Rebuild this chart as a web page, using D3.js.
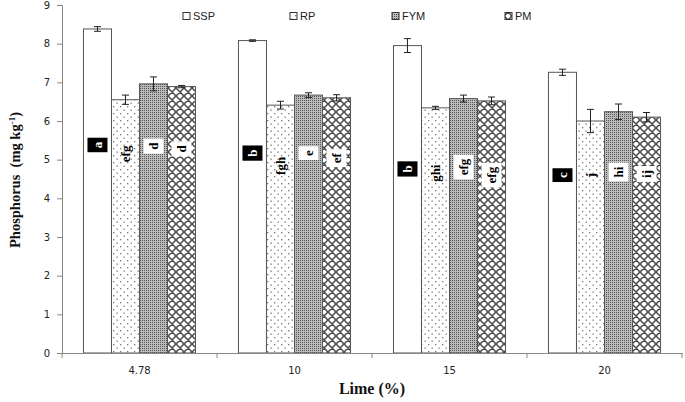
<!DOCTYPE html>
<html><head><meta charset="utf-8">
<script src="https://cdn.jsdelivr.net/npm/d3@7"></script>
<style>body{margin:0;background:#fff}svg{display:block}</style>
</head><body>
<svg id="c" width="685" height="402"></svg>
<script>
const categories = ["4.78", "10", "15", "20"];
const seriesNames = ["SSP", "RP", "FYM", "PM"];
const ssp = [8.38, 8.08, 7.95, 7.26];
const rp  = [6.55, 6.41, 6.34, 6.00];
const fym = [6.96, 6.67, 6.58, 6.24];
const pm  = [6.89, 6.60, 6.52, 6.10];
const sspErr = [0.06, 0.02, 0.18, 0.08];
const rpErr  = [0.12, 0.10, 0.04, 0.30];
const fymErr = [0.18, 0.06, 0.09, 0.20];
const pmErr  = [0.03, 0.08, 0.10, 0.12];
const sspLet = ["a", "b", "b", "c"];
const rpLet  = ["efg", "fgh", "ghi", "j"];
const fymLet = ["d", "e", "efg", "hi"];
const pmLet  = ["d", "ef", "efg", "ij"];
// label centre heights in axis units
const sspLab = [5.38, 5.17, 4.76, 4.60];
const rpLab  = [5.15, 4.84, 4.65, 4.60];
const fymLab = [5.35, 5.17, 4.81, 4.68];
const pmLab  = [5.28, 5.04, 4.60, 4.63];
const yTicks = [0,1,2,3,4,5,6,7,8,9];

const seriesVals = [ssp, rp, fym, pm];
const seriesErr = [sspErr, rpErr, fymErr, pmErr];
const seriesLet = [sspLet, rpLet, fymLet, pmLet];
const seriesLab = [sspLab, rpLab, fymLab, pmLab];
const fills = ["#fff", "url(#pRP)", "url(#pFYM)", "url(#pPM)"];

const svg = d3.select("#c");
svg.append("rect").attr("width",685).attr("height",402).attr("fill","#fff");

const defs = svg.append("defs");
// RP sparse dots
const pRP = defs.append("pattern").attr("id","pRP").attr("patternUnits","userSpaceOnUse").attr("width",7).attr("height",7);
pRP.append("rect").attr("width",7).attr("height",7).attr("fill","#fff");
pRP.append("rect").attr("x",1).attr("y",1).attr("width",1.3).attr("height",1.3).attr("fill","#777");
pRP.append("rect").attr("x",4.5).attr("y",4.5).attr("width",1.3).attr("height",1.3).attr("fill","#777");
// FYM fine texture
const pF = defs.append("pattern").attr("id","pFYM").attr("patternUnits","userSpaceOnUse").attr("width",2).attr("height",2);
pF.append("rect").attr("width",2).attr("height",2).attr("fill","#bbb");
pF.append("rect").attr("width",1).attr("height",1).attr("fill","#555");
// PM crosshatch
const pP = defs.append("pattern").attr("id","pPM").attr("patternUnits","userSpaceOnUse").attr("width",8).attr("height",8);
pP.append("rect").attr("width",8).attr("height",8).attr("fill","#fff");
pP.append("path").attr("d","M0,0L8,8M8,0L0,8M-1,7L1,9M7,-1L9,1M-1,1L1,-1M7,9L9,7")
  .attr("stroke","#4a4a4a").attr("stroke-width",1.5).attr("fill","none");

const x0 = d3.scaleBand().domain(categories).range([62, 682]).paddingInner(0.277).paddingOuter(0.1385);
const x1 = d3.scaleBand().domain(seriesNames).range([0, x0.bandwidth()]);
const y = d3.scaleLinear().domain([0, 9]).range([353, 5]);

// y axis
const yAx = svg.append("g").attr("transform","translate(62,0)")
  .call(d3.axisLeft(y).tickValues(yTicks).tickSize(5).tickPadding(7).tickFormat(d3.format("d")));
yAx.select(".domain").attr("stroke","#888");
yAx.selectAll(".tick line").attr("stroke","#888");
yAx.selectAll("text").attr("font-family","DejaVu Sans, Verdana, sans-serif").attr("font-size",10).attr("fill","#222");

// bars
seriesNames.forEach((s, si) => {
  const g = svg.append("g");
  g.selectAll("rect").data(categories).join("rect")
    .attr("x", c => x0(c) + x1(s))
    .attr("y", (c, i) => y(seriesVals[si][i]))
    .attr("width", x1.bandwidth())
    .attr("height", (c, i) => y(0) - y(seriesVals[si][i]))
    .attr("fill", fills[si]).attr("stroke","#555").attr("stroke-width",1);
});

// x axis
const xAx = svg.append("g").attr("transform","translate(0,353)")
  .call(d3.axisBottom(x0).tickSize(0).tickPadding(14).tickSizeOuter(0));
xAx.select(".domain").attr("stroke","#888");
xAx.selectAll("text").attr("font-family","DejaVu Sans, Verdana, sans-serif").attr("font-size",10).attr("fill","#222");
const bounds = categories.map(c => x0(c) - x0.step()*0.1385).concat([682]);
xAx.selectAll(".bt").data(bounds).join("line").attr("class","bt")
  .attr("x1", d => d).attr("x2", d => d).attr("y1",0).attr("y2",5).attr("stroke","#888");

// error bars
seriesNames.forEach((s, si) => {
  categories.forEach((c, i) => {
    const cx = x0(c) + x1(s) + x1.bandwidth()/2;
    const v = seriesVals[si][i], e = seriesErr[si][i];
    const g = svg.append("g").attr("stroke","#222").attr("stroke-width",1);
    g.append("line").attr("x1",cx).attr("x2",cx).attr("y1",y(v+e)).attr("y2",y(v-e));
    g.append("line").attr("x1",cx-3.5).attr("x2",cx+3.5).attr("y1",y(v+e)).attr("y2",y(v+e));
    g.append("line").attr("x1",cx-3.5).attr("x2",cx+3.5).attr("y1",y(v-e)).attr("y2",y(v-e));
  });
});

// letter labels
seriesNames.forEach((s, si) => {
  categories.forEach((c, i) => {
    const cx = x0(c) + x1(s) + x1.bandwidth()/2;
    const cy = y(seriesLab[si][i]);
    const g = svg.append("g").attr("transform", `translate(${cx},${cy}) rotate(-90)`);
    const box = g.append("rect");
    const t = g.append("text").text(seriesLet[si][i])
      .attr("text-anchor","middle").attr("dominant-baseline","central")
      .attr("font-family","Liberation Serif, Times New Roman, serif").attr("font-weight","bold")
      .attr("font-size",13).attr("fill", si === 0 ? "#fff" : "#000");
    const len = t.node().getComputedTextLength();
    box.attr("x", -len/2 - 4).attr("y", -10).attr("width", len + 8).attr("height", 20)
      .attr("fill", si === 0 ? "#000" : "#fff").attr("opacity", si === 1 ? 0 : 1);
  });
});

// legend
const legX = [183, 290, 392, 505];
seriesNames.forEach((s, si) => {
  svg.append("rect").attr("x", legX[si]).attr("y", 12.5).attr("width", 7).attr("height", 7)
    .attr("fill", fills[si]).attr("stroke","#333").attr("stroke-width",1);
  svg.append("text").attr("x", legX[si] + 10).attr("y", 16).attr("dominant-baseline","central")
    .attr("font-family","Liberation Sans, Arial, sans-serif").attr("font-size",11).attr("fill","#222").text(s);
});

// axis titles
const yt = svg.append("text").attr("transform","translate(20,180) rotate(-90)")
  .attr("text-anchor","middle").attr("font-family","Liberation Serif, Times New Roman, serif")
  .attr("font-weight","bold").attr("font-size",14.5).attr("fill","#111");
yt.append("tspan").text("Phosphorus  (mg kg").attr("xml:space","preserve");
yt.append("tspan").text("-1").attr("font-size",9).attr("dy",-5);
yt.append("tspan").text(")").attr("dy",5);

svg.append("text").attr("x",372).attr("y",394).attr("text-anchor","middle")
  .attr("font-family","Liberation Serif, Times New Roman, serif").attr("font-weight","bold")
  .attr("font-size",16).attr("fill","#111").text("Lime (%)");
</script>
</body></html>
